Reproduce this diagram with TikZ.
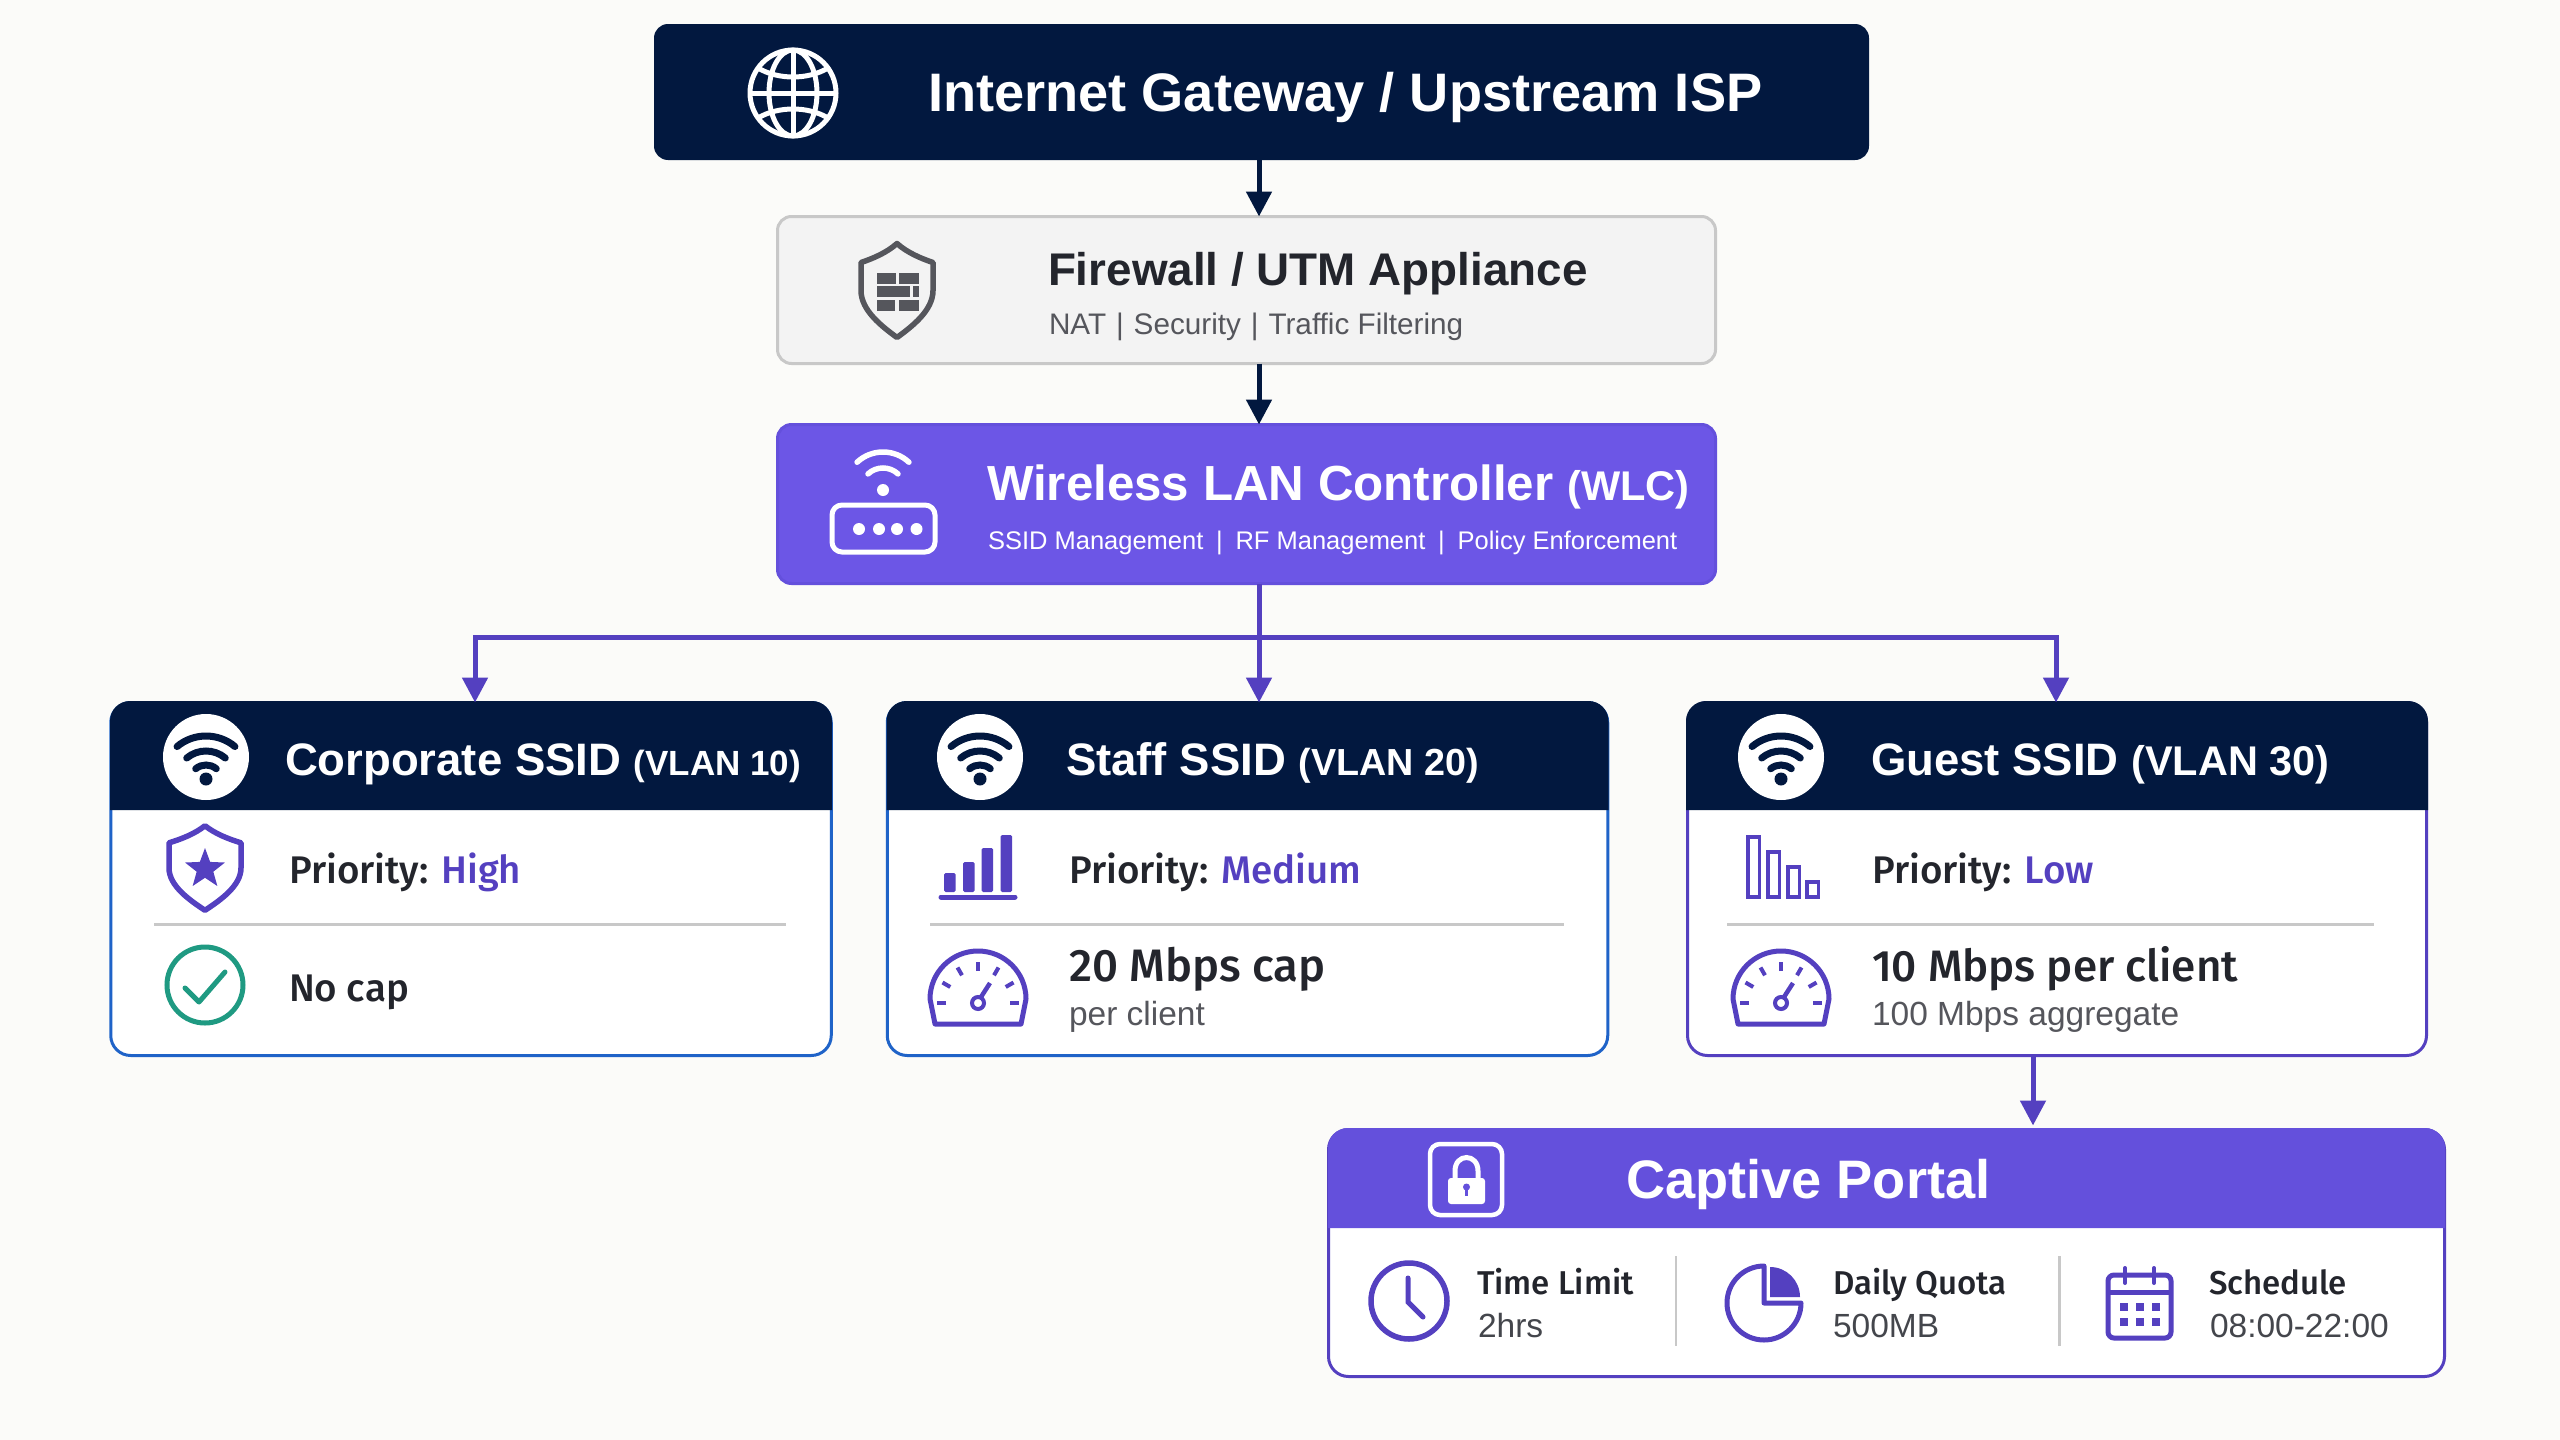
\documentclass[tikz,border=0pt]{standalone}
\usepackage{fontspec}
\setmainfont{Liberation Sans}
\newfontfamily\medfont{Fira Sans Medium}
\newcommand{\vlanfont}[1]{\fontsize{#1}{42}\selectfont}
\usetikzlibrary{arrows.meta,shapes.geometric}

\definecolor{page_bg}{HTML}{FBFBF9}
\definecolor{navy}{HTML}{02183F}
\definecolor{violet}{HTML}{6450DC}
\definecolor{wlc_fill}{HTML}{6C56E6}
\definecolor{deep_violet}{HTML}{5440C0}
\definecolor{card_blue}{HTML}{1F63C8}
\definecolor{fw_fill}{HTML}{F3F3F3}
\definecolor{soft_grey}{HTML}{C8C8C8}
\definecolor{ink}{HTML}{23252C}
\definecolor{dim_ink}{HTML}{55565C}
\definecolor{teal_ok}{HTML}{1F9A82}

\begin{document}
\begin{tikzpicture}[x=1pt, y=-1pt,
    box_style/.style={rectangle, rounded corners=14pt, inner sep=0pt, outer sep=0pt},
    card_style/.style={rectangle, rounded corners=20pt, fill=white, line width=3pt, inner sep=0pt, outer sep=0pt, minimum width=720.5pt, minimum height=353pt},
    text_style/.style={anchor=base west, inner sep=0pt, outer sep=0pt},
    big_title/.style={text_style, text=white, font=\fontsize{54.2}{60}\selectfont\bfseries},
    box_title/.style={text_style, font=\fontsize{45.8}{52}\selectfont\bfseries},
    head_title/.style={text_style, text=white, font=\fontsize{45.5}{54}\selectfont\bfseries},
    line_big/.style={text_style, text=ink, font=\fontsize{44}{50}\selectfont\medfont},
    line_text/.style={text_style, text=ink, font=\fontsize{38.5}{44}\selectfont\medfont},
    line_sub/.style={text_style, text=dim_ink, font=\fontsize{33.5}{40}\selectfont},
    small_head/.style={text_style, text=ink, font=\fontsize{33}{40}\selectfont\medfont},
    small_text/.style={text_style, text=ink!85, font=\fontsize{33.5}{40}\selectfont},
    divider_style/.style={draw=soft_grey, line width=3pt},
    navy_arrow/.style={draw=navy, line width=5pt, -{Triangle[length=25pt,width=25pt]}},
    violet_line/.style={draw=deep_violet, line width=5pt},
    violet_arrow/.style={violet_line, -{Triangle[length=25pt,width=25pt]}},
    pics/wifi_icon/.style={code={
        \fill[#1] (0,-2) circle (6.5pt);
        \foreach \r in {16,30,45}
            \draw[#1, line width=7pt, line cap=round] (130:\r pt) arc[start angle=130, end angle=50, radius=\r pt];
    }},
    pics/gauge_icon/.style={code={
        \draw[deep_violet, line width=5pt, line join=round] (-43,21) -- (-48,-4) arc[start angle=180, end angle=0, radius=48pt] -- (43,21) -- cycle;
        \foreach \a in {0,30,...,180}
            \draw[deep_violet, line width=4pt] (\a:32pt) -- (\a:41pt);
        \draw[deep_violet, line width=4pt] (0,0) circle (6pt);
        \draw[deep_violet, line width=4.5pt] (3,-6) -- (12,-20);
    }},
    pics/shield_icon/.style={code={
        \draw[#1, line width=5.5pt, line join=round] (0,-47) .. controls (10,-38) and (24,-32) .. (36,-28) -- (36,0)
            .. controls (36,20) and (15,36) .. (0,47) .. controls (-15,36) and (-36,20) .. (-36,0) -- (-36,-28) .. controls (-24,-32) and (-10,-38) .. (0,-47) -- cycle;
    }}]

    \fill[page_bg] (0,0) rectangle (2560,1440);

    % top boxes
    \node[box_style, fill=navy, minimum width=1215pt, minimum height=136pt] (gateway) at (1261.5,92) {};
    \node[box_style, fill=fw_fill, draw=soft_grey, line width=3pt, minimum width=938pt, minimum height=147pt] (firewall) at (1246.5,290) {};
    \node[box_style, fill=wlc_fill, draw=violet, line width=3pt, minimum width=938pt, minimum height=159pt] (wlc) at (1246.5,504) {};

    % cards
    \node[card_style, draw=card_blue] (corporate) at (471,879) {};
    \node[card_style, draw=card_blue] (staff) at (1247.5,879) {};
    \node[card_style, draw=deep_violet, minimum width=739pt] (guest) at (2057,879) {};
    \node[card_style, draw=deep_violet, minimum width=1116pt, minimum height=247pt] (captive) at (1886.5,1253) {};

    % card headers
    \fill[navy] (110,810) [rounded corners=20pt] -- (110,701) -- (832,701) [sharp corners] -- (832,810) -- cycle;
    \fill[navy] (886.5,810) [rounded corners=20pt] -- (886.5,701) -- (1608.5,701) [sharp corners] -- (1608.5,810) -- cycle;
    \fill[navy] (1686,810) [rounded corners=20pt] -- (1686,701) -- (2428,701) [sharp corners] -- (2428,810) -- cycle;
    \fill[violet] (1328,1228) [rounded corners=20pt] -- (1328,1128) -- (2445,1128) [sharp corners] -- (2445,1228) -- cycle;

    % dividers
    \draw[divider_style] (154,924) -- (786,924);
    \draw[divider_style] (930,924) -- (1564,924);
    \draw[divider_style] (1727,924) -- (2374,924);
    \draw[draw=soft_grey, line width=2.5pt] (1676,1256) -- (1676,1346);
    \draw[draw=soft_grey, line width=2.5pt] (2059.5,1256) -- (2059.5,1346);

    % connectors
    \coordinate (bus) at (1259,637);
    \draw[navy_arrow] ([xshift=-2.5pt]gateway.south) -- ([xshift=12.5pt]firewall.north);
    \draw[navy_arrow] ([xshift=12.5pt]firewall.south) -- ([xshift=12.5pt]wlc.north);
    \draw[violet_line] ([xshift=12.5pt]wlc.south) -- (bus);
    \draw[violet_arrow] (bus) -| ([xshift=4pt]corporate.north);
    \draw[violet_arrow] (bus) -- ([xshift=11.5pt]staff.north);
    \draw[violet_arrow] (bus) -| ([xshift=-1pt]guest.north);
    \draw[violet_arrow, shorten >=4pt] ([xshift=-24pt]guest.south) -- ([xshift=146.5pt]captive.north);

    % top box texts
    \node[big_title] (gateway_text) at (928,111) {Internet Gateway / Upstream ISP};
    \node[box_title, text=ink] (firewall_text) at (1048,285) {Firewall / UTM Appliance};
    \node[text_style, text=dim_ink, font=\fontsize{29.7}{34}\selectfont] (firewall_sub) at (1049,334) {NAT\,\,|\,\,Security\,\,|\,\,Traffic Filtering};
    \node[box_title, text=white] (wlc_text) at (987,500) {\fontsize{49.3}{52}\selectfont Wireless LAN Controller {\fontsize{41.5}{48}\selectfont(WLC)}};
    \node[text_style, text=white, font=\fontsize{25.5}{32}\selectfont] (wlc_sub) at (988,549) {SSID Management\,\,\,|\,\,\,RF Management\,\,\,|\,\,\,Policy Enforcement};

    % card texts
    \node[head_title] (corporate_text) at (285,775) {Corporate SSID {\vlanfont{35}(VLAN 10)}};
    \node[head_title] (staff_text) at (1066,775) {Staff SSID {\vlanfont{37.7}(VLAN 20)}};
    \node[head_title] (guest_text) at (1871,775) {Guest SSID {\vlanfont{41.5}(VLAN 30)}};
    \node[line_text] (corporate_prio) at (289,883) {Priority: \textcolor{deep_violet}{High}};
    \node[line_text] (corporate_cap) at (289,1001) {No cap};
    \node[line_text] (staff_prio) at (1069,883) {Priority: \textcolor{deep_violet}{Medium}};
    \node[line_big] (staff_cap) at (1069,981) {\fontsize{45.5}{50}\selectfont 20 Mbps cap};
    \node[line_sub] (staff_sub) at (1069,1025) {per client};
    \node[line_text] (guest_prio) at (1872,883) {Priority: \textcolor{deep_violet}{Low}};
    \node[line_big] (guest_cap) at (1872,981) {10 Mbps per client};
    \node[line_sub] (guest_sub) at (1872,1025) {100 Mbps aggregate};

    % captive portal texts
    \node[big_title] (captive_text) at (1626,1198) {Captive Portal};
    \node[small_head] (time_head) at (1477,1294) {Time Limit};
    \node[small_text] (time_val) at (1478,1337) {2hrs};
    \node[small_head] (quota_head) at (1833,1294) {Daily Quota};
    \node[small_text] (quota_val) at (1833,1337) {500MB};
    \node[small_head] (sched_head) at (2209,1294) {Schedule};
    \node[small_text] (sched_val) at (2210,1337) {08:00-22:00};

    % globe
    \begin{scope}[shift={(793,93)}, draw=white, line width=5pt]
        \draw (0,0) circle (43pt);
        \draw (0,0) ellipse [x radius=24pt, y radius=43pt];
        \draw (0,-43) -- (0,43);
        \draw (-43,0) -- (43,0);
        \draw (-35,-25) .. controls (-15,-13) and (15,-13) .. (35,-25);
        \draw (-35,25) .. controls (-15,13) and (15,13) .. (35,25);
    \end{scope}

    % firewall shield
    \pic at (897,290.5) {shield_icon=dim_ink};
    \foreach \x/\y/\w in {877/272.5/19, 899/272.5/20, 877/286/33, 913/286/6, 877/300/18, 899/300/20}
        \fill[dim_ink] (\x,\y) rectangle (\x+\w,\y+11);

    % wlc router
    \begin{scope}[shift={(883,490)}, draw=white, line width=5.5pt, line cap=round]
        \fill[white] (0,0) circle (6pt);
        \foreach \r in {22,38}
            \draw (133:\r pt) arc[start angle=133, end angle=47, radius=\r pt];
    \end{scope}
    \draw[white, line width=5pt, rounded corners=10pt] (832,505) rectangle (935,552);
    \foreach \x in {859,879,897,916.5}
        \fill[white] (\x,529) circle (6pt);

    % wifi badges
    \foreach \x in {206,980,1781} {
        \fill[white] (\x,757) circle (43pt);
        \pic at (\x,781) {wifi_icon=navy};
    }

    % corporate icons
    \pic[yscale=0.9] at (205,868) {shield_icon=deep_violet};
    \node[star, star points=5, star point ratio=2.4, fill=deep_violet, minimum size=42pt, inner sep=0pt] (star_mark) at (205,869) {};
    \draw[teal_ok, line width=5pt] (205,985) circle (38pt);
    \draw[teal_ok, line width=5pt, line join=round, line cap=round] (185,988) -- (199,1002) -- (225,972);

    % staff bars
    \foreach \x/\t in {944/873, 963/862, 981.5/848, 1000.5/835}
        \fill[deep_violet, rounded corners=1.5pt] (\x,\t) rectangle (\x+11.5,892);
    \draw[deep_violet, line width=5pt, line cap=round] (941,897) -- (1015,897);

    % guest bars
    \foreach \x/\t in {1748/837, 1768/852, 1788/867, 1807/882}
        \draw[deep_violet, line width=3.5pt] (\x,\t) rectangle (\x+11.5,897);

    % gauges
    \pic at (978,1003) {gauge_icon};
    \pic at (1781,1003) {gauge_icon};

    % lock
    \draw[white, line width=4.5pt, rounded corners=10pt] (1430,1144) rectangle (1502,1215);
    \draw[white, line width=5pt] (1455,1180) -- (1455,1171) .. controls (1455,1153) and (1478,1153) .. (1478,1171) -- (1478,1180);
    \fill[white, rounded corners=3pt] (1448,1178) rectangle (1485,1204);
    \fill[violet] (1466.5,1187) circle (3.5pt);
    \draw[violet, line width=2.5pt] (1466.5,1187) -- (1466.5,1196);

    % clock
    \draw[deep_violet, line width=5.5pt] (1409,1301) circle (38pt);
    \draw[deep_violet, line width=5pt, line cap=round] (1408,1278) -- (1408,1302) -- (1423,1317);

    % pie
    \draw[deep_violet, line width=5pt, line join=round] (1764,1266) arc[start angle=90, end angle=360, radius=37pt] -- (1764,1303) -- cycle;
    \fill[deep_violet] (1770,1297) -- (1770,1267) arc[start angle=90, end angle=0, radius=30pt] -- cycle;

    % calendar
    \draw[deep_violet, line width=5pt, rounded corners=6pt] (2108,1275) rectangle (2171,1338);
    \draw[deep_violet, line width=5pt] (2108,1292) -- (2171,1292);
    \foreach \x in {2125,2154}
        \draw[deep_violet, line width=4pt, line cap=round] (\x,1268) -- (\x,1283);
    \foreach \x in {2124,2140,2156}
        \foreach \y in {1307,1322}
            \fill[deep_violet] (\x-4,\y-4) rectangle (\x+4,\y+4);

\end{tikzpicture}
\end{document}
